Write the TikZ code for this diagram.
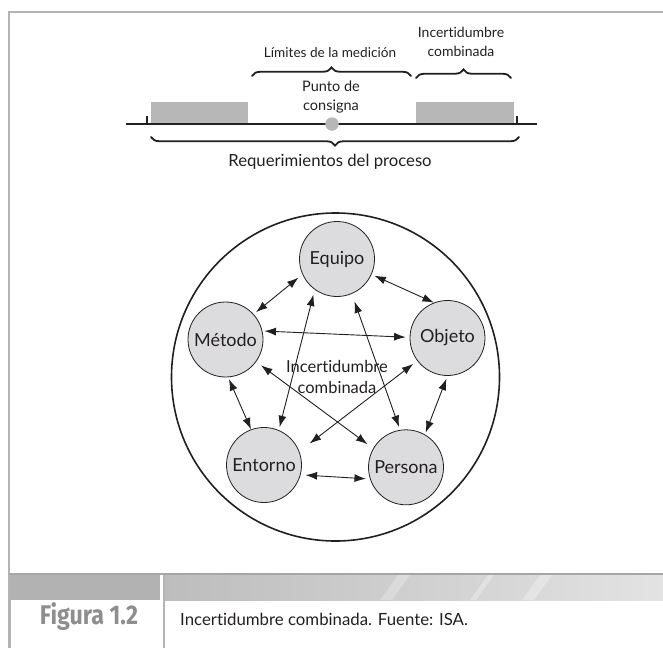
\documentclass[tikz,border=0pt]{standalone}
\usepackage{fontspec}
\setmainfont{Lato}[Ligatures=NoCommon]
\newfontfamily\figfont{Fira Sans}
\usetikzlibrary{arrows.meta,decorations.pathreplacing}
\definecolor{ink}{HTML}{231F20}
\definecolor{framegray}{HTML}{B4B4B4}
\definecolor{bargray}{HTML}{B7B7B7}
\definecolor{disc}{HTML}{DCDCDE}
\definecolor{figgray}{HTML}{8E8E8E}

\begin{document}
\begin{tikzpicture}[x=1pt,y=-1pt,
  lbl/.style={font=\fontsize{14}{19}\selectfont, text=ink, align=center, inner sep=0pt},
  biglbl/.style={font=\fontsize{16.5}{21}\selectfont, text=ink, align=center, inner sep=0pt},
  factor/.style={circle, draw=ink, line width=0.8pt, fill=disc, minimum size=75pt,
                 inner sep=0pt, font=\fontsize{18}{20}\selectfont, text=ink},
  link/.style={{Latex[length=11.5pt,width=8pt]}-{Latex[length=11.5pt,width=8pt]},
               line width=0.9pt, draw=ink},
  curly/.style={decorate, decoration={brace, amplitude=8.5pt, aspect=0.5},
                line width=1.8pt, line cap=round, draw=ink},
  tol/.style={fill=bargray, draw=none},
]
\useasboundingbox (0,0) rectangle (663,648);

% ---------- page frame and caption strip ----------
\draw[framegray, line width=2pt] (9,648) -- (9,12) -- (663,12);
\shade[left color=gray!52, right color=gray!22] (163,575) rectangle (663,600);
\fill[white, opacity=0.25] (380,600) -- (398,575) -- (410,575) -- (392,600) -- cycle;
\fill[white, opacity=0.30] (470,600) -- (488,575) -- (494,575) -- (476,600) -- cycle;
\fill[white, opacity=0.30] (522,600) -- (540,575) -- (552,575) -- (534,600) -- cycle;
\fill[gray!60] (9,575) rectangle (160,600);
\draw[gray!70, line width=2pt] (9,574) -- (663,574);
\draw[white, line width=2pt] (161,575) -- (161,648);
\draw[framegray, line width=2pt] (164,575) -- (164,648);
\draw[framegray, line width=2pt] (10,575) -- (10,648);
\node[font=\figfont\bfseries\fontsize{27}{30}\selectfont, text=figgray, inner sep=0pt]
  (figlabel) at (89,617) {\scalebox{0.86}[1]{Figura 1.2}};
\node[font=\fontsize{16.8}{19}\selectfont, text=ink, anchor=west, inner sep=0pt]
  (caption) at (180,619) {Incertidumbre combinada. Fuente: ISA.};

% ---------- process requirement scale ----------
\fill[tol] (151,102) rectangle (248,124);
\fill[tol] (416,102) rectangle (514,124);
\draw[ink, line width=1.1pt] (147,116) -- (147,124);
\draw[ink, line width=1.1pt] (517,116) -- (517,124);
\draw[ink, line width=2.4pt] (126,124) -- (537,124);
\node[circle, fill=bargray, minimum size=13.5pt, inner sep=0pt] (setpoint) at (332,124) {};

\node[font=\fontsize{14.5}{19}\selectfont, text=ink, align=center, inner sep=0pt]
  (punto) at (331,97) {Punto de\\consigna};
\draw[curly] (252,76) -- (411,76);
\node[font=\fontsize{13.6}{18}\selectfont, text=ink, inner sep=0pt] (limites) at (330,53) {Límites de la medición};
\draw[curly] (416,78) -- (511,78);
\node[lbl] (incert) at (461,42) {Incertidumbre\\combinada};
\draw[curly] (519,137) -- (151,137);
\node[font=\fontsize{16.7}{20}\selectfont, text=ink, inner sep=0pt] (requer) at (330,162) {Requerimientos del proceso};

% ---------- combined uncertainty sources ----------
\draw[ink, line width=1.6pt] (335.5,377) circle[radius=164];

\node[factor] (equipo)  at (337,259)   {Equipo};
\node[factor] (metodo)  at (225.5,339.5) {Método};
\node[factor] (objeto)  at (447.5,338) {Objeto};
\node[factor] (entorno) at (264,465)   {Entorno};
\node[factor] (persona) at (406,467.3) {Persona};

\draw[link, shorten <=5pt, shorten >=3pt] (equipo.204) -- (metodo.42);
\draw[link, shorten <=3pt, shorten >=0pt] (equipo.336) -- (objeto.111);
\draw[link, shorten <=2pt, shorten >=4pt] (metodo.13) -- (objeto.179);
\draw[link, shorten <=5pt, shorten >=3pt] (equipo.234) -- (entorno.67);
\draw[link, shorten <=8pt, shorten >=3pt] (equipo.293) -- (persona.99);
\draw[link, shorten <=6pt, shorten >=7pt] (metodo.324) -- (persona.150);
\draw[link, shorten <=5pt, shorten >=13pt] (objeto.217) -- (entorno.21);
\draw[link, shorten <=2pt, shorten >=0pt] (metodo.274) -- (entorno.110);
\draw[link, shorten <=3pt, shorten >=2pt] (objeto.270) -- (persona.60);
\draw[link, shorten <=5pt, shorten >=4pt] (entorno.345) -- (persona.198);

\node[biglbl] (centro) at (337,377) {Incertidumbre\\combinada};
\end{tikzpicture}
\end{document}
